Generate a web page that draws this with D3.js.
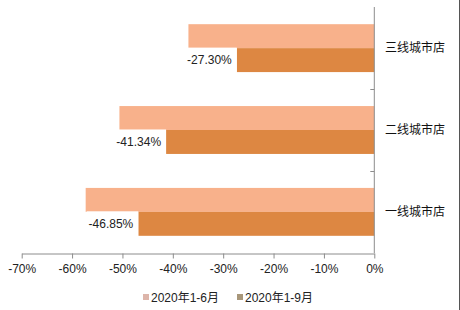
<!DOCTYPE html>
<html>
<head>
<meta charset="utf-8">
<script src="https://cdn.jsdelivr.net/npm/d3@7"></script>
<style>
  html, body { margin: 0; padding: 0; background: #fff; }
  svg { display: block; font-family: "Liberation Sans", Arial, "Noto Sans CJK SC", sans-serif; }
</style>
</head>
<body>
<svg id="chart" width="460" height="310"></svg>
<script>
// categories, top to bottom
const categories = ["三线城市店", "二线城市店", "一线城市店"];
const seriesNames = ["2020年1-6月", "2020年1-9月"];
const h1Values = [-0.369, -0.506, -0.573];   // 2020年1-6月
const q3Values = [-0.2730, -0.4134, -0.4685]; // 2020年1-9月 (labelled)
const xTicks = [-0.7, -0.6, -0.5, -0.4, -0.3, -0.2, -0.1, 0];

const colors = ["#F8B18B", "#DD8742"];
const legendColors = ["#DDB5AA", "#A8977A"];

const svg = d3.select("#chart");

const x = d3.scaleLinear().domain([-0.7, 0]).range([21.7, 374.3]);
const y = d3.scaleBand().domain(categories).range([7, 253])
            .paddingInner(0.415).paddingOuter(0.21);
const ySub = d3.scaleBand().domain(seriesNames).range([0, y.bandwidth()]);

const rows = categories.map((c, i) => ({ cat: c, vals: [h1Values[i], q3Values[i]] }));

// hyphen instead of unicode minus, like the original
const pct2 = v => d3.format(".2%")(v).replace("\u2212", "-");
const pct0 = v => d3.format(".0%")(v).replace("\u2212", "-");

// bars
const g = svg.append("g");
rows.forEach(r => {
  r.vals.forEach((v, j) => {
    g.append("rect")
      .attr("x", x(v))
      .attr("y", y(r.cat) + ySub(seriesNames[j]))
      .attr("width", x(0) - x(v))
      .attr("height", ySub.bandwidth())
      .attr("fill", colors[j]);
  });
});

// data labels for 1-9月 with white box
rows.forEach(r => {
  const v = r.vals[1];
  const cy = y(r.cat) + ySub(seriesNames[1]) + ySub.bandwidth() / 2;
  const txt = g.append("text")
    .attr("x", x(v) - 5)
    .attr("y", cy)
    .attr("dy", "0.35em")
    .attr("text-anchor", "end")
    .attr("font-size", 12)
    .attr("fill", "#222")
    .text(pct2(v));
  const bb = txt.node().getBBox();
  g.insert("rect", () => txt.node())
    .attr("x", bb.x - 2)
    .attr("y", cy - 12.5)
    .attr("width", x(v) - bb.x + 2)
    .attr("height", 25)
    .attr("fill", "#fff");
});

// vertical axis line at 0 with category boundary ticks
const axisColor = "#8c8c8c";
svg.append("line")
  .attr("x1", x(0)).attr("x2", x(0))
  .attr("y1", 7).attr("y2", 253)
  .attr("stroke", axisColor);
const step = y.step();
const bounds = categories.map(c => y(c) - y.paddingInner() * step / 2).slice(1);
svg.selectAll(".ctick").data(bounds).enter().append("line")
  .attr("x1", x(0) - 4).attr("x2", x(0))
  .attr("y1", d => Math.round(d) + 0.5).attr("y2", d => Math.round(d) + 0.5)
  .attr("stroke", axisColor);

// category labels
svg.selectAll(".clabel").data(categories).enter().append("text")
  .attr("x", 385)
  .attr("y", d => y(d) + y.bandwidth() / 2)
  .attr("dy", "0.35em")
  .attr("font-family", "'Noto Sans CJK SC', sans-serif")
  .attr("font-size", 12)
  .attr("fill", "#111")
  .text(d => d);

// bottom axis
const xAxis = d3.axisBottom(x).tickValues(xTicks)
  .tickFormat(pct0).tickSize(5).tickSizeOuter(0).tickPadding(6);
const ax = svg.append("g").attr("transform", "translate(0,253.5)").call(xAxis);
ax.select(".domain").attr("stroke", axisColor);
ax.selectAll(".tick line").attr("stroke", axisColor);
ax.selectAll(".tick text").attr("font-size", 12).attr("fill", "#222")
  .attr("font-family", "'Liberation Sans', Arial, sans-serif");

// legend
const legendX = [143, 237];
seriesNames.forEach((s, i) => {
  svg.append("rect")
    .attr("x", legendX[i]).attr("y", 294)
    .attr("width", 6).attr("height", 6)
    .attr("fill", legendColors[i]);
  svg.append("text")
    .attr("x", legendX[i] + 8).attr("y", 298)
    .attr("dy", "0.35em")
    .attr("font-size", 12)
    .attr("fill", "#222")
    .text(s);
});

// frame line on the right edge
svg.append("line")
  .attr("x1", 459.5).attr("x2", 459.5).attr("y1", 0).attr("y2", 310)
  .attr("stroke", "#555");
</script>
</body>
</html>
